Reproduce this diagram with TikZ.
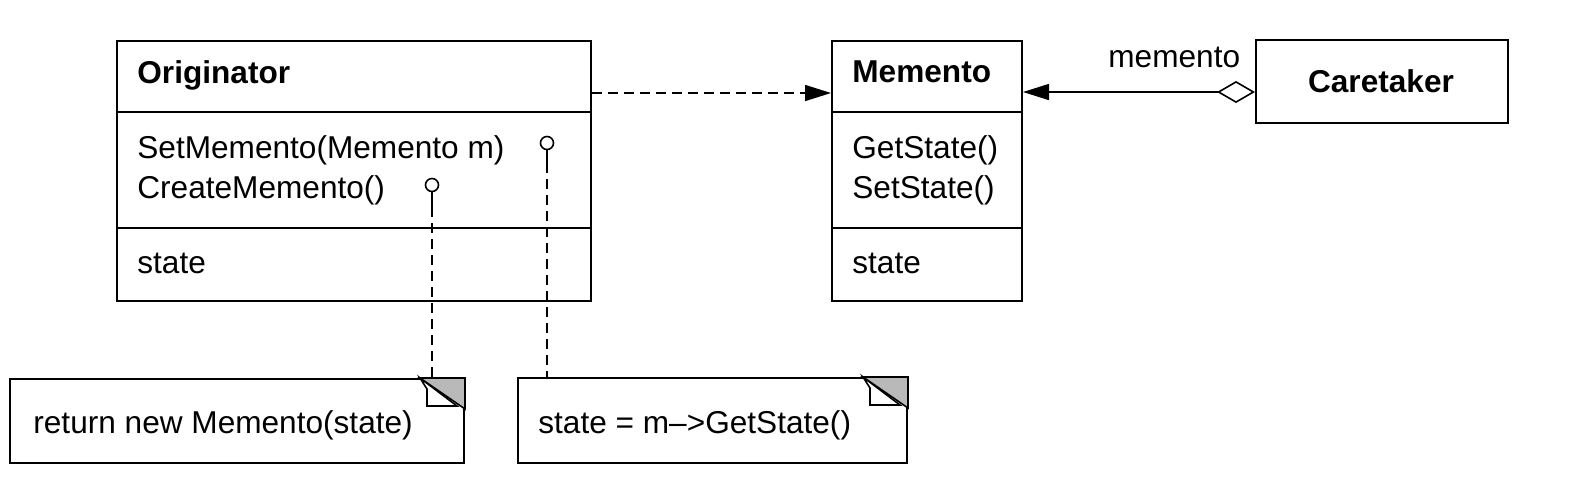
\documentclass[tikz,border=0pt]{standalone}
\usepackage{fontspec}
\setmainfont{Liberation Sans}
\usetikzlibrary{arrows.meta}

\begin{document}
\begin{tikzpicture}[
        x=0.5pt, y=-0.5pt,
        every node/.style={font=\fontsize{15.8}{18}\selectfont},
        class box/.style={draw, line width=1pt, anchor=north west, inner sep=0pt},
        member/.style={anchor=base west, inner sep=0pt},
        class name/.style={member, font=\fontsize{15.8}{18}\selectfont\bfseries},
        dog ear/.style={draw, line width=0.8pt, fill=gray!55},
        fold/.style={draw, line width=0.8pt, fill=white},
        pin dot/.style={draw, circle, line width=0.8pt, inner sep=0pt, minimum size=6.5pt}
    ]
    \useasboundingbox (0,0) rectangle (1573,484);

    % classes
    \node[class box, minimum width=237pt, minimum height=130pt] (orig) at (116,40) {};
    \node[class box, minimum width=95pt, minimum height=130pt] (memento) at (831,40) {};
    \node[class box, minimum width=126pt, minimum height=41.5pt] (care) at (1255,39) {};
    \draw[line width=1pt] (orig.west |- 0,112) -- (orig.east |- 0,112);
    \draw[line width=1pt] (orig.west |- 0,228) -- (orig.east |- 0,228);
    \draw[line width=1pt] (memento.west |- 0,112) -- (memento.east |- 0,112);
    \draw[line width=1pt] (memento.west |- 0,228) -- (memento.east |- 0,228);

    \node[class name] (origname) at (137,83) {Originator};
    \node[member] (setmem) at (137,158) {SetMemento(Memento m)};
    \node[member] (createmem) at (137,198) {CreateMemento()};
    \node[member] (origstate) at (137,273) {state};

    \node[class name] (memname) at (852,82) {Memento};
    \node[member] (getstate) at (852,158) {GetState()};
    \node[member] (setstate) at (852,198) {SetState()};
    \node[member] (memstate) at (852,273) {state};

    \node[class name, anchor=base] (carename) at (1381,92) {Caretaker};
    \node[member] (role) at (1108,67) {memento};

    % notes
    \node[class box, minimum width=227pt, minimum height=42pt] (note1) at (9,378) {};
    \node[class box, minimum width=194.5pt, minimum height=42.5pt] (note2) at (517,377) {};
    \node[member] (note1txt) at (33,433) {return new Memento(state)};
    \node[member] (note2txt) at (538,433) {state = m\textendash>GetState()};
    \foreach \n in {note1, note2} {
        \draw[fold] (\n.north east) ++(-45,0) -- ++(7,11) -- ++(0,17) -- ++(30,0) -- cycle;
        \filldraw[dog ear] (\n.north east) ++(-45,0) -- ++(45,0) -- ++(0,31) -- cycle;
    }

    % connectors
    \draw[line width=0.8pt, dash pattern=on 5pt off 3pt, -{Triangle[length=13pt, width=8pt]}]
        (orig.east |- 0,93) -- (memento.west |- 0,93);
    \draw[line width=0.8pt, {Diamond[open, length=19pt, width=11pt]}-{Triangle[length=13pt, width=8pt]}]
        (care.west |- 0,92) -- (memento.east |- 0,92);

    \node[pin dot] (pin1) at (547,143) {};
    \node[pin dot] (pin2) at (432,185) {};
    \draw[line width=0.8pt] (pin1.south) -- ++(0,13) coordinate (pin1end);
    \draw[line width=0.8pt] (pin2.south) -- ++(0,15) coordinate (pin2end);
    \draw[line width=0.8pt, dash pattern=on 5pt off 3pt] (pin1end) -- (pin1end |- note2.north);
    \draw[line width=0.8pt, dash pattern=on 5pt off 3pt] (pin2end) -- (pin2end |- note1.north);
\end{tikzpicture}
\end{document}
